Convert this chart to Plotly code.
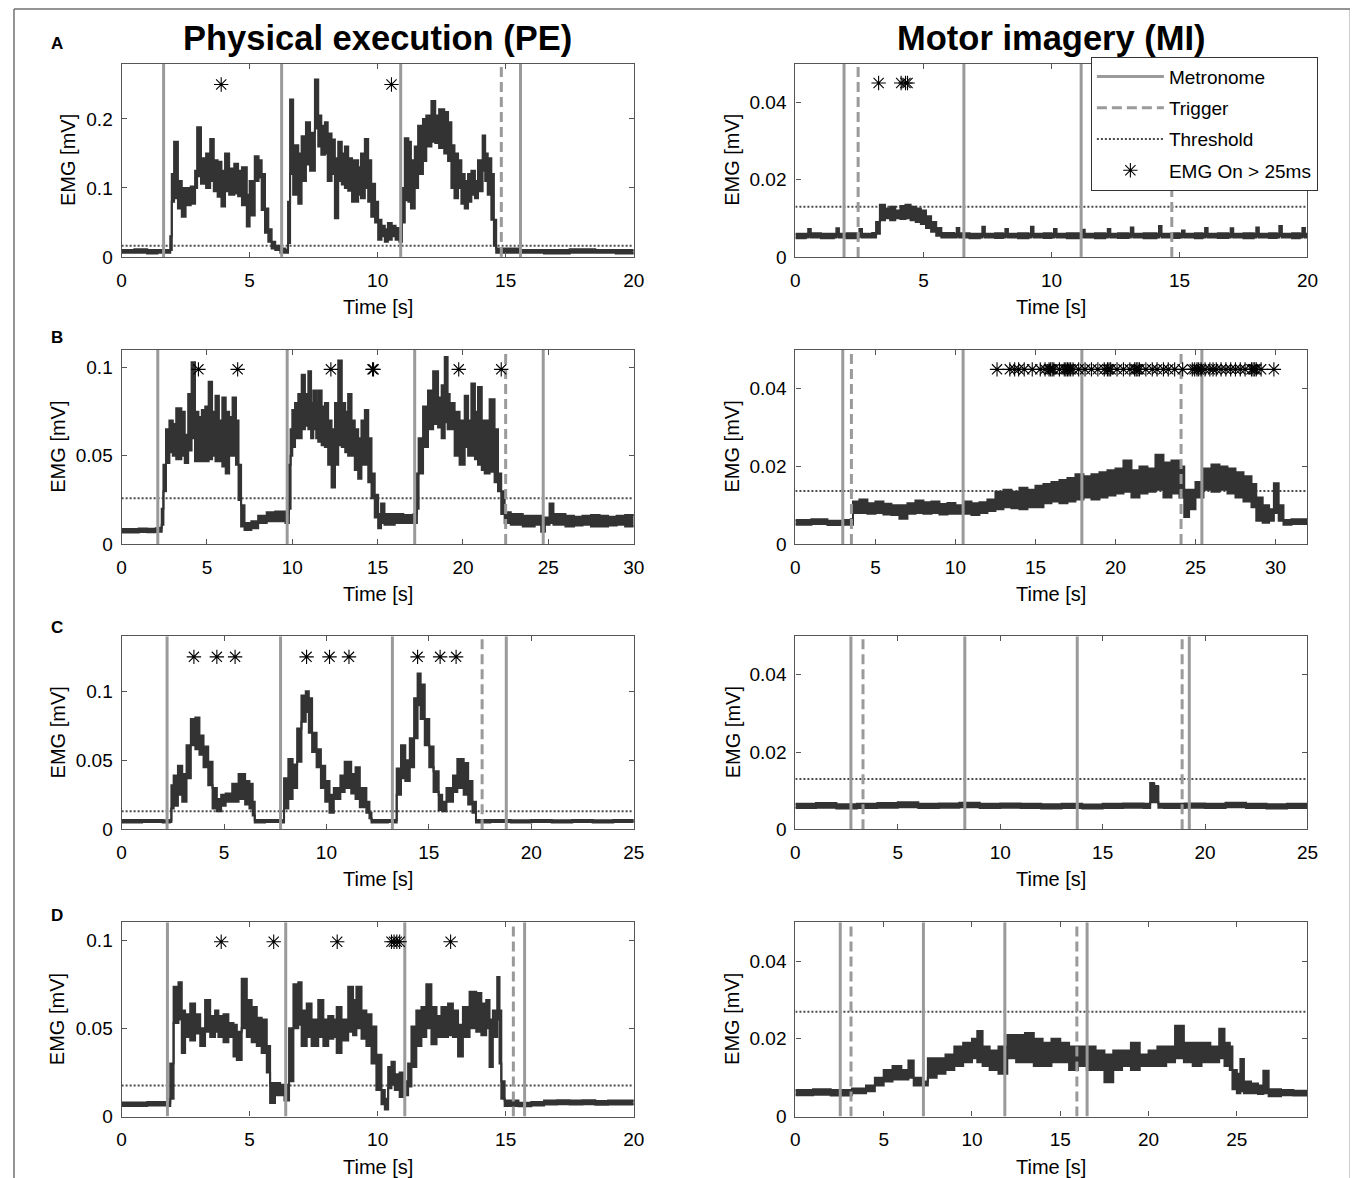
import plotly.graph_objects as go

# Figure size; the photographed page maps figure pixels to picture pixels as
# picture = SCALE * figure + offset (measured), so layout targets are converted through it.
FIG_W, FIG_H = 1360, 1185
SCALE = 0.99
OFF_X, OFF_Y = 12.2, 7.3

# ---------------- Panel A, physical execution ----------------
A_PE_t  = [0.0, 0.5, 1.0, 1.4, 1.8, 1.9, 1.96, 2.05, 2.2, 2.35, 2.5, 2.7, 2.87, 2.95, 3.1, 3.3, 3.46, 3.6, 3.75, 3.9,
           4.04, 4.2, 4.4, 4.55, 4.7, 4.89, 5.0, 5.2, 5.35, 5.47, 5.6, 5.73, 5.86, 6.0, 6.2, 6.4, 6.5, 6.58, 6.7, 6.9,
           7.03, 7.2, 7.36, 7.55, 7.68, 7.8, 7.94, 8.05, 8.2, 8.33, 8.46, 8.6, 8.72, 8.85, 9.0, 9.24, 9.35, 9.5, 9.63, 9.75,
           9.9, 10.02, 10.15, 10.28, 10.4, 10.55, 10.7, 10.85, 10.95, 11.06, 11.2, 11.3, 11.45, 11.58, 11.77, 11.9, 12.1, 12.25, 12.4, 12.6,
           12.75, 12.88, 13.0, 13.14, 13.27, 13.4, 13.53, 13.66, 13.8, 13.92, 14.1, 14.2, 14.3, 14.44, 14.54, 14.63, 15.5, 16.5, 17.5, 18.5,
           19.3, 20.0]
A_PE_lo = [0.006, 0.006, 0.005, 0.006, 0.006, 0.010, 0.080, 0.085, 0.070, 0.058, 0.075, 0.077, 0.100, 0.117, 0.106, 0.100, 0.110, 0.095, 0.087, 0.073,
           0.095, 0.090, 0.092, 0.088, 0.075, 0.044, 0.060, 0.110, 0.115, 0.068, 0.035, 0.022, 0.012, 0.010, 0.006, 0.006, 0.020, 0.120, 0.090, 0.077,
           0.110, 0.134, 0.125, 0.186, 0.160, 0.148, 0.150, 0.110, 0.120, 0.056, 0.110, 0.105, 0.100, 0.096, 0.080, 0.090, 0.085, 0.100, 0.080, 0.058,
           0.050, 0.025, 0.030, 0.022, 0.025, 0.030, 0.025, 0.022, 0.050, 0.082, 0.080, 0.070, 0.100, 0.120, 0.139, 0.160, 0.167, 0.165, 0.158, 0.150,
           0.139, 0.100, 0.085, 0.100, 0.077, 0.070, 0.080, 0.090, 0.085, 0.095, 0.125, 0.110, 0.090, 0.054, 0.016, 0.006, 0.006, 0.005, 0.006, 0.006,
           0.005, 0.006]
A_PE_hi = [0.010, 0.011, 0.010, 0.010, 0.010, 0.030, 0.120, 0.167, 0.110, 0.100, 0.100, 0.102, 0.125, 0.188, 0.143, 0.150, 0.171, 0.140, 0.138, 0.125,
           0.150, 0.128, 0.135, 0.125, 0.130, 0.090, 0.110, 0.146, 0.140, 0.120, 0.070, 0.040, 0.022, 0.016, 0.012, 0.010, 0.080, 0.228, 0.162, 0.150,
           0.175, 0.195, 0.180, 0.257, 0.205, 0.190, 0.195, 0.179, 0.170, 0.143, 0.167, 0.150, 0.160, 0.143, 0.140, 0.130, 0.150, 0.171, 0.140, 0.106,
           0.080, 0.054, 0.045, 0.040, 0.049, 0.045, 0.042, 0.038, 0.100, 0.172, 0.167, 0.140, 0.160, 0.190, 0.200, 0.205, 0.226, 0.205, 0.214, 0.210,
           0.195, 0.162, 0.150, 0.140, 0.120, 0.110, 0.120, 0.125, 0.110, 0.140, 0.176, 0.150, 0.143, 0.120, 0.054, 0.012, 0.010, 0.010, 0.011, 0.010,
           0.010, 0.010]
A_PE_metronome = [1.64, 6.25, 10.9, 15.58]
A_PE_trigger = [14.83]
A_PE_threshold = 0.016
A_PE_onsets = [3.89, 10.54]
A_PE_onset_level = 0.25

# ---------------- Panel A, motor imagery ----------------
A_MI_t  = [0.0, 0.4, 0.5, 0.6, 1.0, 1.5, 1.6, 1.7, 2.0, 2.4, 2.5, 2.6, 3.0, 3.15, 3.3, 3.5, 3.7, 3.9, 4.1, 4.3,
           4.5, 4.7, 4.9, 5.1, 5.3, 5.5, 5.7, 6.2, 6.3, 6.4, 6.8, 7.2, 7.3, 7.4, 7.8, 8.1, 8.2, 8.3, 8.7, 9.1,
           9.2, 9.3, 9.7, 10.0, 10.1, 10.2, 10.6, 11.1, 11.2, 11.3, 11.7, 12.1, 12.2, 12.3, 12.6, 13.0, 13.1, 13.2, 13.6, 14.1,
           14.2, 14.3, 14.7, 15.0, 15.1, 15.2, 15.6, 15.9, 16.0, 16.1, 16.5, 16.9, 17.0, 17.1, 17.5, 17.9, 18.0, 18.1, 18.5, 18.8,
           18.9, 19.0, 19.4, 19.7, 19.8, 19.9, 20.0]
A_MI_lo = [0.0048, 0.0050, 0.0052, 0.0050, 0.0048, 0.0050, 0.0052, 0.0050, 0.0048, 0.0050, 0.0052, 0.0050, 0.0050, 0.0060, 0.0095, 0.0100, 0.0095, 0.0100, 0.0098, 0.0100,
           0.0095, 0.0090, 0.0085, 0.0075, 0.0065, 0.0055, 0.0050, 0.0050, 0.0052, 0.0050, 0.0048, 0.0050, 0.0053, 0.0050, 0.0049, 0.0050, 0.0052, 0.0050, 0.0048, 0.0050,
           0.0053, 0.0050, 0.0049, 0.0050, 0.0052, 0.0050, 0.0048, 0.0050, 0.0051, 0.0050, 0.0048, 0.0050, 0.0052, 0.0050, 0.0049, 0.0050, 0.0053, 0.0050, 0.0048, 0.0050,
           0.0054, 0.0050, 0.0049, 0.0050, 0.0051, 0.0050, 0.0048, 0.0050, 0.0052, 0.0050, 0.0049, 0.0050, 0.0052, 0.0050, 0.0048, 0.0050, 0.0053, 0.0050, 0.0049, 0.0050,
           0.0054, 0.0050, 0.0048, 0.0050, 0.0052, 0.0050, 0.0049]
A_MI_hi = [0.0060, 0.0060, 0.0072, 0.0061, 0.0060, 0.0060, 0.0074, 0.0060, 0.0061, 0.0060, 0.0072, 0.0060, 0.0062, 0.0090, 0.0135, 0.0125, 0.0130, 0.0120, 0.0132, 0.0135,
           0.0130, 0.0125, 0.0120, 0.0105, 0.0090, 0.0075, 0.0062, 0.0060, 0.0075, 0.0061, 0.0060, 0.0060, 0.0078, 0.0060, 0.0061, 0.0060, 0.0072, 0.0060, 0.0061, 0.0060,
           0.0078, 0.0060, 0.0061, 0.0060, 0.0072, 0.0060, 0.0061, 0.0060, 0.0070, 0.0060, 0.0061, 0.0060, 0.0072, 0.0060, 0.0061, 0.0060, 0.0076, 0.0060, 0.0061, 0.0060,
           0.0080, 0.0060, 0.0061, 0.0060, 0.0068, 0.0060, 0.0061, 0.0060, 0.0075, 0.0060, 0.0061, 0.0060, 0.0074, 0.0060, 0.0061, 0.0060, 0.0076, 0.0060, 0.0061, 0.0060,
           0.0080, 0.0060, 0.0061, 0.0060, 0.0075, 0.0060, 0.0061]
A_MI_metronome = [1.9, 6.58, 11.16]
A_MI_trigger = [2.45, 14.7]
A_MI_threshold = 0.013
A_MI_onsets = [3.25, 4.13, 4.3, 4.38]
A_MI_onset_level = 0.045

# ---------------- Panel B, physical execution ----------------
B_PE_t  = [0.0, 0.5, 1.0, 1.5, 2.0, 2.2, 2.35, 2.45, 2.6, 2.8, 3.0, 3.2, 3.5, 3.7, 3.9, 4.1, 4.3, 4.5, 4.7, 4.9,
           5.1, 5.3, 5.5, 5.7, 5.9, 6.1, 6.3, 6.5, 6.7, 6.85, 7.0, 7.2, 7.6, 8.0, 8.5, 9.0, 9.6, 9.8, 9.9, 10.0,
           10.16, 10.35, 10.55, 10.74, 10.94, 11.1, 11.23, 11.4, 11.52, 11.72, 11.91, 12.1, 12.3, 12.5, 12.69, 12.9, 13.1, 13.27, 13.47, 13.66,
           13.86, 14.05, 14.25, 14.45, 14.64, 14.83, 15.03, 15.2, 15.4, 16.0, 16.5, 17.1, 17.3, 17.4, 17.66, 17.95, 18.25, 18.54, 18.75, 18.93,
           19.1, 19.22, 19.51, 19.8, 20.1, 20.3, 20.49, 20.7, 20.88, 21.1, 21.27, 21.56, 21.85, 22.05, 22.24, 22.44, 22.8, 23.5, 24.2, 24.58,
           24.8, 25.07, 25.3, 26.0, 26.5, 27.0, 27.5, 28.0, 28.5, 29.0, 29.5, 30.0]
B_PE_lo = [0.0065, 0.0066, 0.0068, 0.0067, 0.0070, 0.0070, 0.0110, 0.0300, 0.0460, 0.0520, 0.0500, 0.0480, 0.0500, 0.0460, 0.0530, 0.0600, 0.0470, 0.0470, 0.0470, 0.0470,
           0.0480, 0.0500, 0.0470, 0.0470, 0.0440, 0.0400, 0.0500, 0.0500, 0.0450, 0.0250, 0.0100, 0.0080, 0.0090, 0.0120, 0.0130, 0.0130, 0.0120, 0.0200, 0.0500, 0.0550,
           0.0600, 0.0600, 0.0650, 0.0670, 0.0650, 0.0600, 0.0650, 0.0600, 0.0580, 0.0560, 0.0550, 0.0450, 0.0320, 0.0450, 0.0560, 0.0550, 0.0520, 0.0500, 0.0500, 0.0420,
           0.0370, 0.0450, 0.0450, 0.0350, 0.0260, 0.0150, 0.0090, 0.0120, 0.0110, 0.0120, 0.0120, 0.0120, 0.0200, 0.0400, 0.0550, 0.0650, 0.0680, 0.0660, 0.0600, 0.0690,
           0.0650, 0.0650, 0.0500, 0.0450, 0.0550, 0.0500, 0.0500, 0.0480, 0.0450, 0.0420, 0.0400, 0.0410, 0.0350, 0.0300, 0.0170, 0.0120, 0.0110, 0.0100, 0.0110, 0.0070,
           0.0110, 0.0120, 0.0110, 0.0100, 0.0105, 0.0110, 0.0100, 0.0100, 0.0105, 0.0110, 0.0100, 0.0100]
B_PE_hi = [0.0085, 0.0086, 0.0088, 0.0087, 0.0090, 0.0092, 0.0200, 0.0450, 0.0650, 0.0700, 0.0680, 0.0770, 0.0750, 0.0620, 0.0850, 0.1030, 0.0750, 0.0720, 0.0760, 0.0780,
           0.0920, 0.0750, 0.0840, 0.0700, 0.0830, 0.0750, 0.0720, 0.0830, 0.0700, 0.0450, 0.0220, 0.0120, 0.0130, 0.0160, 0.0180, 0.0185, 0.0175, 0.0450, 0.0650, 0.0760,
           0.0800, 0.0850, 0.0960, 0.0850, 0.0980, 0.0800, 0.0870, 0.0800, 0.0870, 0.0780, 0.0800, 0.0700, 0.0650, 0.0800, 0.1040, 0.0800, 0.0750, 0.0850, 0.0700, 0.0650,
           0.0600, 0.0700, 0.0760, 0.0600, 0.0400, 0.0280, 0.0170, 0.0230, 0.0170, 0.0170, 0.0165, 0.0170, 0.0400, 0.0600, 0.0780, 0.0870, 0.0980, 0.0830, 0.0900, 0.1060,
           0.0850, 0.0800, 0.0750, 0.0700, 0.0840, 0.0700, 0.0910, 0.0750, 0.0890, 0.0700, 0.0700, 0.0820, 0.0650, 0.0400, 0.0300, 0.0180, 0.0170, 0.0160, 0.0160, 0.0110,
           0.0150, 0.0230, 0.0170, 0.0160, 0.0155, 0.0160, 0.0165, 0.0160, 0.0155, 0.0160, 0.0165, 0.0170]
B_PE_metronome = [2.12, 9.7, 17.17, 24.7]
B_PE_trigger = [22.5]
B_PE_threshold = 0.026
B_PE_onsets = [4.5, 6.8, 12.26, 14.7, 14.76, 19.75, 22.24]
B_PE_onset_level = 0.099

# ---------------- Panel B, motor imagery ----------------
B_MI_t  = [0.0, 1.0, 2.0, 3.0, 3.45, 3.6, 4.0, 4.5, 5.0, 5.5, 6.0, 6.5, 7.0, 7.5, 8.0, 8.5, 9.0, 9.5, 10.0, 10.5,
           11.0, 11.5, 12.0, 12.5, 13.0, 13.5, 14.0, 14.5, 15.0, 15.5, 16.0, 16.5, 17.0, 17.5, 18.0, 18.5, 19.0, 19.5, 20.0, 20.5,
           21.0, 21.5, 22.0, 22.5, 23.0, 23.5, 24.0, 24.3, 24.6, 25.0, 25.5, 26.0, 26.5, 27.0, 27.5, 28.0, 28.5, 28.8, 29.2, 29.6,
           29.9, 30.2, 30.5, 31.0, 32.0]
B_MI_lo = [0.0050, 0.0052, 0.0049, 0.0050, 0.0050, 0.0080, 0.0080, 0.0078, 0.0080, 0.0076, 0.0075, 0.0065, 0.0078, 0.0080, 0.0078, 0.0080, 0.0076, 0.0078, 0.0078, 0.0078,
           0.0075, 0.0080, 0.0085, 0.0090, 0.0095, 0.0092, 0.0090, 0.0095, 0.0095, 0.0105, 0.0110, 0.0105, 0.0110, 0.0115, 0.0120, 0.0115, 0.0120, 0.0125, 0.0130, 0.0135,
           0.0120, 0.0130, 0.0135, 0.0140, 0.0120, 0.0130, 0.0120, 0.0070, 0.0090, 0.0120, 0.0140, 0.0135, 0.0140, 0.0130, 0.0120, 0.0110, 0.0095, 0.0060, 0.0055, 0.0060,
           0.0080, 0.0060, 0.0050, 0.0052, 0.0052]
B_MI_hi = [0.0062, 0.0064, 0.0060, 0.0062, 0.0064, 0.0110, 0.0115, 0.0105, 0.0110, 0.0104, 0.0100, 0.0100, 0.0105, 0.0112, 0.0108, 0.0110, 0.0103, 0.0106, 0.0100, 0.0110,
           0.0105, 0.0108, 0.0115, 0.0135, 0.0140, 0.0135, 0.0145, 0.0140, 0.0150, 0.0155, 0.0160, 0.0165, 0.0170, 0.0180, 0.0175, 0.0180, 0.0185, 0.0190, 0.0195, 0.0215,
           0.0190, 0.0200, 0.0195, 0.0230, 0.0210, 0.0215, 0.0200, 0.0140, 0.0140, 0.0160, 0.0195, 0.0205, 0.0200, 0.0195, 0.0185, 0.0175, 0.0155, 0.0120, 0.0100, 0.0090,
           0.0157, 0.0100, 0.0062, 0.0064, 0.0065]
B_MI_metronome = [2.96, 10.48, 17.9, 25.4]
B_MI_trigger = [3.5, 24.1]
B_MI_threshold = 0.0137
B_MI_onsets = [12.6, 13.4, 13.7, 13.95, 14.3, 14.8, 15.3, 15.6, 15.85, 15.95, 16.05, 16.15, 16.5, 16.8, 16.9, 17.0, 17.1, 17.2,
               17.35, 17.7, 18.1, 18.5, 18.9, 19.3, 19.5, 19.6, 19.7, 20.1, 20.5, 20.9, 21.2, 21.3, 21.4, 21.5, 21.9, 22.3,
               22.6, 23.0, 23.3, 23.7, 24.2, 24.8, 24.95, 25.1, 25.2, 25.35, 25.6, 25.9, 26.1, 26.3, 26.6, 26.9, 27.2, 27.5,
               27.8, 28.1, 28.5, 28.6, 28.7, 28.8, 29.1, 29.9]
B_MI_onset_level = 0.045

# ---------------- Panel C, physical execution ----------------
C_PE_t  = [0.0, 1.0, 2.0, 2.35, 2.43, 2.54, 2.75, 2.96, 3.17, 3.38, 3.6, 3.8, 4.0, 4.23, 4.44, 4.65, 4.86, 5.08, 5.4, 5.71,
           6.03, 6.24, 6.4, 6.5, 7.0, 7.8, 7.93, 8.14, 8.35, 8.57, 8.78, 8.99, 9.14, 9.3, 9.52, 9.73, 9.94, 10.15, 10.36, 10.68,
           10.89, 11.21, 11.42, 11.63, 11.95, 12.1, 12.2, 13.0, 13.35, 13.43, 13.64, 13.85, 14.07, 14.28, 14.45, 14.6, 14.8, 15.02, 15.23, 15.48,
           15.65, 15.86, 16.18, 16.39, 16.7, 16.92, 17.13, 17.3, 18.0, 19.0, 20.0, 21.0, 22.0, 23.0, 24.0, 25.0]
C_PE_lo = [0.0050, 0.0052, 0.0050, 0.0052, 0.0150, 0.0170, 0.0250, 0.0200, 0.0370, 0.0610, 0.0580, 0.0540, 0.0450, 0.0320, 0.0150, 0.0130, 0.0170, 0.0200, 0.0200, 0.0220,
           0.0180, 0.0150, 0.0100, 0.0050, 0.0052, 0.0050, 0.0150, 0.0220, 0.0300, 0.0490, 0.0780, 0.0850, 0.0700, 0.0560, 0.0450, 0.0300, 0.0200, 0.0120, 0.0220, 0.0270,
           0.0300, 0.0260, 0.0220, 0.0160, 0.0120, 0.0080, 0.0050, 0.0052, 0.0050, 0.0250, 0.0370, 0.0350, 0.0450, 0.0660, 0.0900, 0.0800, 0.0610, 0.0450, 0.0270, 0.0140,
           0.0130, 0.0200, 0.0270, 0.0300, 0.0250, 0.0180, 0.0120, 0.0050, 0.0052, 0.0050, 0.0052, 0.0050, 0.0052, 0.0050, 0.0052, 0.0050]
C_PE_hi = [0.0068, 0.0068, 0.0066, 0.0068, 0.0320, 0.0390, 0.0460, 0.0400, 0.0610, 0.0800, 0.0810, 0.0680, 0.0600, 0.0490, 0.0300, 0.0220, 0.0250, 0.0260, 0.0330, 0.0400,
           0.0350, 0.0330, 0.0200, 0.0068, 0.0068, 0.0066, 0.0370, 0.0510, 0.0470, 0.0730, 0.0970, 0.1000, 0.0950, 0.0700, 0.0580, 0.0460, 0.0350, 0.0250, 0.0300, 0.0390,
           0.0490, 0.0400, 0.0450, 0.0300, 0.0200, 0.0120, 0.0068, 0.0068, 0.0068, 0.0440, 0.0610, 0.0500, 0.0660, 0.0950, 0.1130, 0.1050, 0.0800, 0.0600, 0.0420, 0.0250,
           0.0200, 0.0300, 0.0390, 0.0510, 0.0480, 0.0350, 0.0200, 0.0068, 0.0068, 0.0066, 0.0068, 0.0066, 0.0068, 0.0066, 0.0068, 0.0066]
C_PE_metronome = [2.22, 7.76, 13.22, 18.78]
C_PE_trigger = [17.6]
C_PE_threshold = 0.013
C_PE_onsets = [3.53, 4.65, 5.54, 9.03, 10.15, 11.1, 14.45, 15.55, 16.33]
C_PE_onset_level = 0.125

# ---------------- Panel C, motor imagery ----------------
C_MI_t  = [0.0, 1.0, 2.0, 3.0, 4.0, 5.0, 6.0, 7.0, 8.0, 9.0, 10.0, 11.0, 12.0, 13.0, 14.0, 15.0, 16.0, 17.0, 17.3, 17.32,
           17.5, 17.52, 17.7, 17.72, 18.0, 19.0, 20.0, 21.0, 22.0, 23.0, 24.0, 25.0]
C_MI_lo = [0.0055, 0.0056, 0.0054, 0.0055, 0.0056, 0.0057, 0.0055, 0.0056, 0.0057, 0.0055, 0.0056, 0.0055, 0.0054, 0.0055, 0.0054, 0.0055, 0.0056, 0.0055, 0.0056, 0.0070,
           0.0070, 0.0070, 0.0070, 0.0056, 0.0055, 0.0056, 0.0055, 0.0057, 0.0055, 0.0054, 0.0055, 0.0055]
C_MI_hi = [0.0066, 0.0068, 0.0065, 0.0066, 0.0068, 0.0070, 0.0066, 0.0067, 0.0069, 0.0066, 0.0067, 0.0066, 0.0065, 0.0066, 0.0064, 0.0066, 0.0067, 0.0066, 0.0066, 0.0120,
           0.0118, 0.0112, 0.0110, 0.0066, 0.0066, 0.0067, 0.0066, 0.0069, 0.0066, 0.0065, 0.0066, 0.0066]
C_MI_metronome = [2.71, 8.27, 13.76, 19.23]
C_MI_trigger = [3.3, 18.88]
C_MI_threshold = 0.013
C_MI_onsets = []
C_MI_onset_level = 0.045

# ---------------- Panel D, physical execution ----------------
D_PE_t  = [0.0, 1.0, 1.8, 1.9, 2.03, 2.22, 2.35, 2.48, 2.68, 2.87, 3.07, 3.26, 3.46, 3.65, 3.78, 3.98, 4.17, 4.37, 4.5, 4.69,
           4.89, 5.08, 5.28, 5.47, 5.67, 5.8, 5.99, 6.19, 6.36, 6.54, 6.71, 6.9, 7.03, 7.23, 7.42, 7.68, 7.88, 8.07, 8.27, 8.4,
           8.59, 8.85, 9.04, 9.17, 9.37, 9.56, 9.76, 9.95, 10.15, 10.28, 10.41, 10.54, 10.67, 10.86, 10.99, 11.19, 11.32, 11.51, 11.71, 11.9,
           12.1, 12.3, 12.49, 12.75, 12.94, 13.14, 13.33, 13.59, 13.85, 14.05, 14.24, 14.37, 14.5, 14.67, 14.76, 14.83, 14.96, 15.5, 16.0, 16.5,
           17.0, 17.5, 18.0, 18.5, 19.0, 20.0]
D_PE_lo = [0.0060, 0.0062, 0.0060, 0.0100, 0.0530, 0.0550, 0.0360, 0.0450, 0.0430, 0.0470, 0.0400, 0.0480, 0.0450, 0.0480, 0.0450, 0.0420, 0.0450, 0.0340, 0.0320, 0.0500,
           0.0450, 0.0420, 0.0400, 0.0360, 0.0250, 0.0077, 0.0120, 0.0120, 0.0090, 0.0200, 0.0500, 0.0520, 0.0400, 0.0450, 0.0400, 0.0450, 0.0400, 0.0440, 0.0450, 0.0360,
           0.0430, 0.0480, 0.0460, 0.0500, 0.0440, 0.0400, 0.0300, 0.0150, 0.0070, 0.0040, 0.0160, 0.0180, 0.0150, 0.0110, 0.0120, 0.0170, 0.0280, 0.0400, 0.0450, 0.0500,
           0.0410, 0.0450, 0.0450, 0.0460, 0.0450, 0.0340, 0.0450, 0.0500, 0.0480, 0.0460, 0.0500, 0.0280, 0.0450, 0.0550, 0.0300, 0.0100, 0.0060, 0.0058, 0.0062, 0.0068,
           0.0070, 0.0068, 0.0070, 0.0066, 0.0068, 0.0066]
D_PE_hi = [0.0080, 0.0082, 0.0080, 0.0300, 0.0735, 0.0760, 0.0600, 0.0580, 0.0640, 0.0580, 0.0500, 0.0660, 0.0570, 0.0600, 0.0570, 0.0580, 0.0530, 0.0520, 0.0480, 0.0780,
           0.0660, 0.0620, 0.0560, 0.0550, 0.0400, 0.0190, 0.0190, 0.0180, 0.0180, 0.0500, 0.0750, 0.0760, 0.0600, 0.0640, 0.0550, 0.0660, 0.0550, 0.0570, 0.0550, 0.0620,
           0.0550, 0.0735, 0.0660, 0.0735, 0.0600, 0.0580, 0.0510, 0.0350, 0.0150, 0.0100, 0.0280, 0.0310, 0.0240, 0.0250, 0.0200, 0.0300, 0.0510, 0.0600, 0.0620, 0.0750,
           0.0620, 0.0570, 0.0620, 0.0640, 0.0600, 0.0520, 0.0620, 0.0707, 0.0700, 0.0640, 0.0660, 0.0550, 0.0600, 0.0790, 0.0600, 0.0200, 0.0090, 0.0078, 0.0082, 0.0090,
           0.0092, 0.0090, 0.0092, 0.0088, 0.0090, 0.0088]
D_PE_metronome = [1.79, 6.41, 11.06, 15.74]
D_PE_trigger = [15.3]
D_PE_threshold = 0.0175
D_PE_onsets = [3.89, 5.94, 8.42, 10.54, 10.64, 10.75, 10.86, 12.85]
D_PE_onset_level = 0.099

# ---------------- Panel D, motor imagery ----------------
D_MI_t  = [0.0, 1.0, 2.0, 3.1, 3.2, 4.0, 4.5, 5.0, 5.5, 6.0, 6.4, 6.7, 7.2, 7.5, 8.0, 8.5, 9.0, 9.5, 10.0, 10.3,
           10.6, 11.0, 11.5, 12.0, 12.5, 13.0, 13.5, 14.0, 14.5, 15.0, 15.5, 16.0, 16.5, 17.0, 17.5, 18.0, 18.5, 19.0, 19.5, 20.0,
           20.5, 21.0, 21.5, 22.0, 22.5, 23.0, 23.5, 24.0, 24.3, 24.6, 24.75, 25.0, 25.2, 25.4, 25.8, 26.2, 26.5, 26.8, 27.5, 28.2,
           29.0]
D_MI_lo = [0.0055, 0.0056, 0.0054, 0.0055, 0.0060, 0.0065, 0.0080, 0.0090, 0.0095, 0.0095, 0.0100, 0.0080, 0.0080, 0.0100, 0.0110, 0.0120, 0.0130, 0.0140, 0.0150, 0.0140,
           0.0130, 0.0120, 0.0110, 0.0150, 0.0140, 0.0140, 0.0130, 0.0130, 0.0140, 0.0140, 0.0120, 0.0130, 0.0120, 0.0120, 0.0088, 0.0120, 0.0130, 0.0120, 0.0130, 0.0130,
           0.0130, 0.0140, 0.0150, 0.0140, 0.0130, 0.0140, 0.0140, 0.0150, 0.0130, 0.0120, 0.0070, 0.0060, 0.0065, 0.0060, 0.0060, 0.0058, 0.0060, 0.0052, 0.0055, 0.0054,
           0.0055]
D_MI_hi = [0.0068, 0.0070, 0.0068, 0.0068, 0.0072, 0.0080, 0.0100, 0.0120, 0.0130, 0.0120, 0.0144, 0.0100, 0.0090, 0.0150, 0.0150, 0.0160, 0.0180, 0.0190, 0.0200, 0.0220,
           0.0180, 0.0170, 0.0180, 0.0210, 0.0210, 0.0215, 0.0200, 0.0190, 0.0200, 0.0190, 0.0180, 0.0180, 0.0180, 0.0170, 0.0160, 0.0170, 0.0170, 0.0190, 0.0160, 0.0170,
           0.0180, 0.0180, 0.0234, 0.0190, 0.0190, 0.0190, 0.0180, 0.0226, 0.0190, 0.0180, 0.0120, 0.0110, 0.0148, 0.0090, 0.0085, 0.0080, 0.0118, 0.0070, 0.0068, 0.0066,
           0.0068]
D_MI_metronome = [2.54, 7.25, 11.86, 16.52]
D_MI_trigger = [3.15, 15.94]
D_MI_threshold = 0.027
D_MI_onsets = []
D_MI_onset_level = 0.045

# ---------------- axes: ranges and ticks ----------------
PE_A_xticks = [0, 5, 10, 15, 20]
PE_B_xticks = [0, 5, 10, 15, 20, 25, 30]
PE_C_xticks = [0, 5, 10, 15, 20, 25]
PE_D_xticks = [0, 5, 10, 15, 20]
MI_A_xticks = [0, 5, 10, 15, 20]
MI_B_xticks = [0, 5, 10, 15, 20, 25, 30]
MI_C_xticks = [0, 5, 10, 15, 20, 25]
MI_D_xticks = [0, 5, 10, 15, 20, 25]
PE_A_yticks, PE_A_ylabels = [0, 0.1, 0.2], ["0", "0.1", "0.2"]
PE_BCD_yticks, PE_BCD_ylabels = [0, 0.05, 0.1], ["0", "0.05", "0.1"]
MI_yticks, MI_ylabels = [0, 0.02, 0.04], ["0", "0.02", "0.04"]

column_titles = ["Physical execution (PE)", "Motor imagery (MI)"]
row_labels = ["A", "B", "C", "D"]
legend_names = ["Metronome", "Trigger", "Threshold", "EMG On > 25ms"]

# ---------------- layout geometry (target picture pixels) ----------------
COL_X = [(121, 634), (796, 1309)]
ROW_Y = [(63, 256), (349, 543), (635, 828), (921, 1115)]

panels = [
    dict(t=A_PE_t, lo=A_PE_lo, hi=A_PE_hi, met=A_PE_metronome, trig=A_PE_trigger, thr=A_PE_threshold,
         on=A_PE_onsets, onl=A_PE_onset_level, xmax=20, ymax=0.28, xt=PE_A_xticks, yt=PE_A_yticks, yl=PE_A_ylabels, r=0, c=0),
    dict(t=A_MI_t, lo=A_MI_lo, hi=A_MI_hi, met=A_MI_metronome, trig=A_MI_trigger, thr=A_MI_threshold,
         on=A_MI_onsets, onl=A_MI_onset_level, xmax=20, ymax=0.05, xt=MI_A_xticks, yt=MI_yticks, yl=MI_ylabels, r=0, c=1),
    dict(t=B_PE_t, lo=B_PE_lo, hi=B_PE_hi, met=B_PE_metronome, trig=B_PE_trigger, thr=B_PE_threshold,
         on=B_PE_onsets, onl=B_PE_onset_level, xmax=30, ymax=0.11, xt=PE_B_xticks, yt=PE_BCD_yticks, yl=PE_BCD_ylabels, r=1, c=0),
    dict(t=B_MI_t, lo=B_MI_lo, hi=B_MI_hi, met=B_MI_metronome, trig=B_MI_trigger, thr=B_MI_threshold,
         on=B_MI_onsets, onl=B_MI_onset_level, xmax=32, ymax=0.05, xt=MI_B_xticks, yt=MI_yticks, yl=MI_ylabels, r=1, c=1),
    dict(t=C_PE_t, lo=C_PE_lo, hi=C_PE_hi, met=C_PE_metronome, trig=C_PE_trigger, thr=C_PE_threshold,
         on=C_PE_onsets, onl=C_PE_onset_level, xmax=25, ymax=0.14, xt=PE_C_xticks, yt=PE_BCD_yticks, yl=PE_BCD_ylabels, r=2, c=0),
    dict(t=C_MI_t, lo=C_MI_lo, hi=C_MI_hi, met=C_MI_metronome, trig=C_MI_trigger, thr=C_MI_threshold,
         on=C_MI_onsets, onl=C_MI_onset_level, xmax=25, ymax=0.05, xt=MI_C_xticks, yt=MI_yticks, yl=MI_ylabels, r=2, c=1),
    dict(t=D_PE_t, lo=D_PE_lo, hi=D_PE_hi, met=D_PE_metronome, trig=D_PE_trigger, thr=D_PE_threshold,
         on=D_PE_onsets, onl=D_PE_onset_level, xmax=20, ymax=0.11, xt=PE_D_xticks, yt=PE_BCD_yticks, yl=PE_BCD_ylabels, r=3, c=0),
    dict(t=D_MI_t, lo=D_MI_lo, hi=D_MI_hi, met=D_MI_metronome, trig=D_MI_trigger, thr=D_MI_threshold,
         on=D_MI_onsets, onl=D_MI_onset_level, xmax=29, ymax=0.05, xt=MI_D_xticks, yt=MI_yticks, yl=MI_ylabels, r=3, c=1),
]

FONT = "Liberation Sans, Arial, Helvetica, sans-serif"
EMG_COLOR = "#333333"
LINE_GRAY = "#9a9a9a"
THR_COLOR = "#4a4a4a"
AXIS_COLOR = "#555555"


def fig_px_x(p):
    return (p - OFF_X) / SCALE


def fig_px_y(p):
    return (p - OFF_Y) / SCALE


def px_x(p):
    """target picture x pixel -> paper fraction"""
    return fig_px_x(p) / FIG_W


def px_y(p):
    """target picture y pixel -> paper fraction"""
    return 1 - fig_px_y(p) / FIG_H


fig = go.Figure()
layout = {}
annotations = []

for i, p in enumerate(panels, start=1):
    xa, ya = f"x{i}", f"y{i}"
    legend_panel = (p["r"] == 0 and p["c"] == 1)
    x0, x1 = COL_X[p["c"]]
    y0, y1 = ROW_Y[p["r"]]

    # threshold (under EMG)
    fig.add_trace(go.Scatter(x=[0, p["xmax"]], y=[p["thr"], p["thr"]], mode="lines",
                             line=dict(color=THR_COLOR, width=2, dash="2px,2px"),
                             name=legend_names[2], showlegend=legend_panel, legendrank=3, legendgroup="thr",
                             xaxis=xa, yaxis=ya, hoverinfo="skip"))
    # EMG envelope band
    fig.add_trace(go.Scatter(x=p["t"], y=p["lo"], mode="lines", line=dict(color=EMG_COLOR, width=2, shape="hv"),
                             showlegend=False, xaxis=xa, yaxis=ya, hoverinfo="skip"))
    fig.add_trace(go.Scatter(x=p["t"], y=p["hi"], mode="lines", line=dict(color=EMG_COLOR, width=2, shape="hv"),
                             fill="tonexty", fillcolor=EMG_COLOR,
                             showlegend=False, xaxis=xa, yaxis=ya, hoverinfo="skip"))
    # metronome lines
    mx, my = [], []
    for t in p["met"]:
        mx += [t, t, None]
        my += [0, p["ymax"], None]
    fig.add_trace(go.Scatter(x=mx, y=my, mode="lines", line=dict(color=LINE_GRAY, width=3),
                             name=legend_names[0], showlegend=legend_panel, legendrank=1, legendgroup="met",
                             xaxis=xa, yaxis=ya, hoverinfo="skip"))
    # trigger lines
    tx, ty = [], []
    for t in p["trig"]:
        tx += [t, t, None]
        ty += [0, p["ymax"], None]
    fig.add_trace(go.Scatter(x=tx, y=ty, mode="lines", line=dict(color=LINE_GRAY, width=3, dash="10px,5px"),
                             name=legend_names[1], showlegend=legend_panel, legendrank=2, legendgroup="trig",
                             xaxis=xa, yaxis=ya, hoverinfo="skip"))
    # EMG onsets
    fig.add_trace(go.Scatter(x=p["on"], y=[p["onl"]] * len(p["on"]), mode="markers",
                             marker=dict(symbol="asterisk-open", size=12, color="black",
                                         line=dict(color="black", width=1.1)),
                             name=legend_names[3], showlegend=legend_panel, legendrank=4, legendgroup="on",
                             xaxis=xa, yaxis=ya, hoverinfo="skip"))

    common = dict(showline=True, linecolor=AXIS_COLOR, linewidth=1.2, mirror="ticks",
                  ticks="inside", ticklen=5, tickwidth=1, tickcolor=AXIS_COLOR,
                  showgrid=False, zeroline=False, tickfont=dict(family=FONT, size=19, color="black"))
    layout["xaxis" + str(i)] = dict(domain=[px_x(x0), px_x(x1)], anchor=ya, range=[0, p["xmax"]],
                                    tickvals=p["xt"], ticktext=[str(v) for v in p["xt"]],
                                    ticklabelstandoff=6, **common)
    layout["yaxis" + str(i)] = dict(domain=[px_y(y1), px_y(y0)], anchor=xa, range=[0, p["ymax"]],
                                    tickvals=p["yt"], ticktext=p["yl"], ticklabelstandoff=4, **common)

    # axis titles
    annotations.append(dict(text="Time [s]", x=px_x((x0 + x1) / 2), y=px_y(y1 + 50), xref="paper", yref="paper",
                            showarrow=False, xanchor="center", yanchor="middle",
                            font=dict(family=FONT, size=20, color="black")))
    if p["c"] == 0:
        lab_x = 68 if p["r"] == 0 else 57
    else:
        lab_x = 733
    annotations.append(dict(text="EMG [mV]", x=px_x(lab_x), y=px_y((y0 + y1) / 2), xref="paper", yref="paper",
                            showarrow=False, xanchor="center", yanchor="middle", textangle=-90,
                            font=dict(family=FONT, size=20, color="black")))

# column titles
for ci, title in enumerate(column_titles):
    x0, x1 = COL_X[ci]
    annotations.append(dict(text=title, x=px_x((x0 + x1) / 2), y=px_y(37), xref="paper", yref="paper",
                            showarrow=False, xanchor="center", yanchor="middle",
                            font=dict(family=FONT, size=34.5, color="black", weight="bold")))
# row labels
ROW_LABEL_Y = [43, 337, 626, 914]
for lab, yy in zip(row_labels, ROW_LABEL_Y):
    annotations.append(dict(text=lab, x=px_x(56), y=px_y(yy), xref="paper", yref="paper",
                            showarrow=False, xanchor="center", yanchor="middle",
                            font=dict(family=FONT, size=17, color="black", weight="bold")))

# outer frame (top, left, right edges); left edge sits at the figure's own left edge
BORDER = "#707070"
top_y = 1 - 1.0 / FIG_H
left_x = 1.0 / FIG_W
right_x = px_x(1352)
shapes = [
    dict(type="line", xref="paper", yref="paper", x0=left_x, x1=right_x, y0=top_y, y1=top_y,
         line=dict(color=BORDER, width=1.5)),
    dict(type="line", xref="paper", yref="paper", x0=left_x, x1=left_x, y0=0, y1=top_y,
         line=dict(color=BORDER, width=1.5)),
    dict(type="line", xref="paper", yref="paper", x0=right_x, x1=right_x, y0=0, y1=top_y,
         line=dict(color=BORDER, width=1.5)),
]

fig.update_layout(
    width=FIG_W, height=FIG_H,
    margin=dict(l=0, r=0, t=0, b=0),
    paper_bgcolor="white", plot_bgcolor="white",
    showlegend=True,
    legend=dict(x=px_x(1092), y=px_y(56), xanchor="left", yanchor="top",
                bgcolor="white", bordercolor="#333333", borderwidth=1,
                font=dict(family=FONT, size=19, color="black"),
                traceorder="grouped", itemwidth=67, tracegroupgap=3.5),
    annotations=annotations,
    shapes=shapes,
    **layout,
)

fig.write_html("out.html")
